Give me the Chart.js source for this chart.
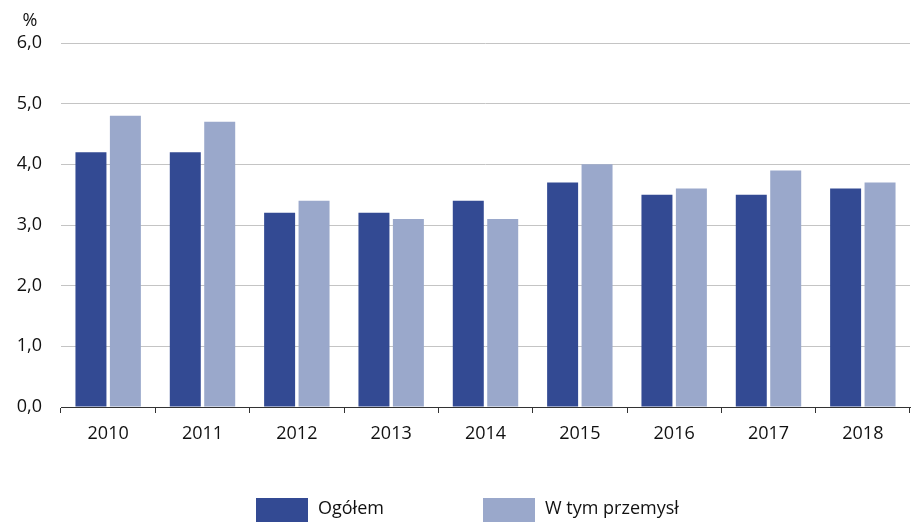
<!DOCTYPE html>
<html lang="pl">

<head>
    <meta charset="UTF-8">
    <title>Ogółem / W tym przemysł</title>
    <script src="https://cdn.jsdelivr.net/npm/chart.js"></script>
    <style>
        html, body { margin: 0; padding: 0; background: #fff; }
        .chart-box { width: 917px; height: 522px; }
    </style>
</head>

<body>
    <div class="chart-box">
        <canvas id="percentChart"></canvas>
    </div>

    <script>
        const years = ['2010', '2011', '2012', '2013', '2014', '2015', '2016', '2017', '2018'];
        const ogolem = [4.2, 4.2, 3.2, 3.2, 3.4, 3.7, 3.5, 3.5, 3.6];
        const przemysl = [4.8, 4.7, 3.4, 3.1, 3.1, 4.0, 3.6, 3.9, 3.7];
        const seriesNames = ['Ogółem', 'W tym przemysł'];
        const unitLabel = '%';

        const darkBlue = 'rgb(51, 74, 147)';
        const lightBlue = 'rgb(154, 168, 203)';
        const fontFamily = '"Open Sans", sans-serif';
        const textColor = '#111';

        // "%" above the y axis labels
        const unitPlugin = {
            id: 'unitLabel',
            afterDraw(chart) {
                const ctx = chart.ctx;
                ctx.save();
                ctx.font = '18px ' + fontFamily;
                ctx.fillStyle = textColor;
                ctx.textAlign = 'center';
                ctx.textBaseline = 'middle';
                ctx.fillText(unitLabel, 30, 21);
                ctx.restore();
            }
        };

        // legend drawn by hand so the two items sit apart like the original
        const legendPlugin = {
            id: 'bottomLegend',
            afterDraw(chart) {
                const ctx = chart.ctx;
                const starts = [256, 483];
                ctx.save();
                ctx.font = '18px ' + fontFamily;
                ctx.textBaseline = 'middle';
                chart.data.datasets.forEach((ds, i) => {
                    ctx.fillStyle = ds.backgroundColor;
                    ctx.fillRect(starts[i], 498, 52, 24);
                    ctx.fillStyle = textColor;
                    ctx.fillText(ds.label, starts[i] + 62, 509);
                });
                ctx.restore();
            }
        };

        const ctx = document.getElementById('percentChart').getContext('2d');
        new Chart(ctx, {
            type: 'bar',
            data: {
                labels: years,
                datasets: [{
                    label: seriesNames[0],
                    data: ogolem,
                    backgroundColor: darkBlue,
                    barPercentage: 0.9,
                    categoryPercentage: 0.73
                }, {
                    label: seriesNames[1],
                    data: przemysl,
                    backgroundColor: lightBlue,
                    barPercentage: 0.9,
                    categoryPercentage: 0.73
                }]
            },
            options: {
                responsive: true,
                maintainAspectRatio: false,
                animation: false,
                layout: { padding: { top: 43, right: 7, left: 0, bottom: 0 } },
                plugins: {
                    legend: { display: false },
                    tooltip: { enabled: false }
                },
                scales: {
                    x: {
                        offset: true,
                        grid: {
                            offset: true,
                            drawOnChartArea: false,
                            drawTicks: true,
                            tickLength: 6,
                            color: '#333'
                        },
                        border: { display: true, color: '#333', width: 1 },
                        ticks: {
                            color: textColor,
                            padding: 10,
                            font: { family: fontFamily, size: 18 }
                        },
                        afterFit(scale) { scale.height = 115; }
                    },
                    y: {
                        min: 0,
                        max: 6,
                        ticks: {
                            stepSize: 1,
                            color: textColor,
                            padding: 19,
                            font: { family: fontFamily, size: 18 },
                            callback: v => v.toFixed(1).replace('.', ',')
                        },
                        grid: { color: '#c4c4c4', drawTicks: false },
                        border: { display: false },
                        afterFit(scale) { scale.width = 61; }
                    }
                }
            },
            plugins: [unitPlugin, legendPlugin]
        });
    </script>
</body>

</html>
